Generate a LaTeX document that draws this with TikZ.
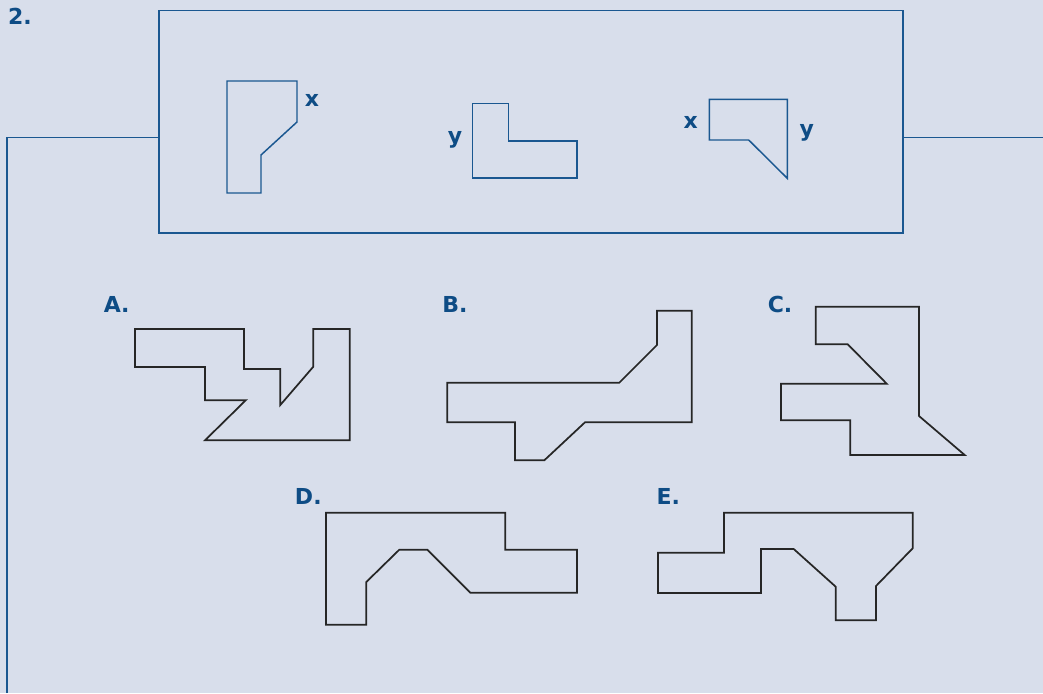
\documentclass[tikz,border=0pt]{standalone}
\usepackage{fontspec}
\setmainfont{DejaVu Sans}
\usepackage{xcolor}
\usepackage{tikz}
\definecolor{paper}{HTML}{D8DEEB}
\definecolor{ink}{HTML}{1A5790}
\definecolor{labelblue}{HTML}{0E4C85}
\tikzset{
  given/.style={draw=ink, line width=1.1pt, line join=miter},
  option/.style={draw=black!85, line width=1.3pt, line join=miter},
  tag/.style={text=labelblue, font=\bfseries\fontsize{16.5}{19}\selectfont, inner sep=0pt}
}

\begin{document}
\begin{tikzpicture}[x=0.75pt, y=-0.75pt]
        \fill[paper] (0,0) rectangle (1043,693);
        \useasboundingbox (0,0) rectangle (1043,693);

        \node[tag] (num) at (20,16.5) {2.};

        % frame with the three given pieces
        \draw[given] (159,10.5) rectangle (903,233);
        \draw[given] (7,693) -- (7,137.5) -- (159,137.5);
        \draw[given] (903,137.5) -- (1043,137.5);

        \draw[given] (227,81) -- (297,81) -- (297,122) -- (261,155) -- (261,193) -- (227,193) -- cycle;
        \node[tag] (px) at (312,100.5) {x};

        \draw[given] (472.7,103.3) -- (508.3,103.3) -- (508.3,141) -- (577,141) -- (577,178) -- (472.7,178) -- cycle;
        \node[tag] (ly) at (455,139.5) {y};

        \draw[given] (709.3,99.3) -- (787.3,99.3) -- (787.3,178.3) -- (748.7,140) -- (709.3,140) -- cycle;
        \node[tag] (qx) at (690.7,122.5) {x};
        \node[tag] (qy) at (806.7,132.5) {y};

        % answer choices
        \node[tag] (la) at (116.7,304) {A.};
        \draw[option] (135,329) -- (244,329) -- (244,369) -- (280.3,369) -- (280.3,405) -- (313.3,366.7)
            -- (313.3,329) -- (349.7,329) -- (349.7,440.3) -- (205,440.3) -- (245.7,400.3) -- (205,400.3)
            -- (205,367) -- (135,367) -- cycle;

        \node[tag] (lb) at (455,304) {B.};
        \draw[option] (657,310.7) -- (691.7,310.7) -- (691.7,422.3) -- (585,422.3) -- (544.3,460.3)
            -- (515,460.3) -- (515,422.3) -- (447.3,422.3) -- (447.3,382.7) -- (619.3,382.7)
            -- (657,345) -- cycle;

        \node[tag] (lc) at (780,304) {C.};
        \draw[option] (815.7,306.7) -- (919,306.7) -- (919,416) -- (964.7,455) -- (850.3,455)
            -- (850.3,420.3) -- (781,420.3) -- (781,383.7) -- (886.7,383.7) -- (847.7,344.3)
            -- (815.7,344.3) -- cycle;

        \node[tag] (ld) at (308.3,496) {D.};
        \draw[option] (326,512.7) -- (505.3,512.7) -- (505.3,549.7) -- (577,549.7) -- (577,592.7)
            -- (470.3,592.7) -- (427.3,549.7) -- (399.3,549.7) -- (366.3,582) -- (366.3,624.7)
            -- (326,624.7) -- cycle;

        \node[tag] (le) at (668.3,496) {E.};
        \draw[option] (724,512.7) -- (912.7,512.7) -- (912.7,548.3) -- (876,586) -- (876,620.3)
            -- (835.7,620.3) -- (835.7,586.7) -- (793.7,549) -- (761,549) -- (761,593)
            -- (658,593) -- (658,552.7) -- (724,552.7) -- cycle;
    \end{tikzpicture}
\end{document}
